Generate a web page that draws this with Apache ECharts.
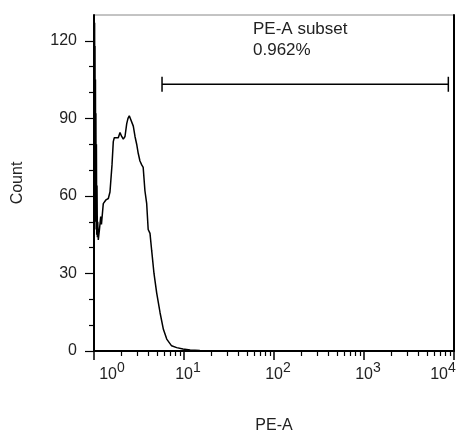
<!DOCTYPE html>
<html>
<head>
<meta charset="utf-8">
<title>PE-A histogram</title>
<script src="https://cdn.jsdelivr.net/npm/echarts@6/dist/echarts.min.js"></script>
<style>
  html, body { margin: 0; padding: 0; background: #fff; }
  #chart { width: 457px; height: 430px; }
</style>
</head>
<body>
<div id="chart"></div>
<script>
// PE-A histogram values
var peValues = [1.006, 1.011, 1.016, 1.021, 1.026, 1.032, 1.038, 1.044, 1.05, 1.057, 1.064, 1.072, 1.08, 1.09, 1.1, 1.116,
  1.15, 1.187, 1.21, 1.268, 1.36, 1.443, 1.505,
  1.585, 1.638, 1.68, 1.757, 1.862, 1.945, 2.03, 2.115, 2.21, 2.31, 2.386, 2.466, 2.576, 2.733, 2.855, 2.98, 3.1,
  3.24, 3.39, 3.52, 3.68, 3.85, 4.0, 4.19, 4.37, 4.64, 4.97, 5.42, 5.9, 6.43, 7.28, 8.29, 9.75, 11.7, 15, 25, 10000];
var counts = [124, 70, 127, 60, 118, 55, 105, 50, 92, 47, 80, 45, 64, 44, 50, 43,
  47, 52, 49, 57, 58.5, 59, 61.5,
  72, 81, 82.5, 82.5, 82.5, 84.5, 83, 82, 83, 88, 90, 91, 90.5, 87, 83, 80, 76.5,
  73.5, 72, 71, 62, 57, 47, 45.5, 39, 30, 22.5, 14.8, 8.4, 4.6, 2, 1.3, 0.8, 0.4, 0.2, 0, 0];

var yTicks = [0, 30, 60, 90, 120];
var yMinorTicks = [10, 20, 40, 50, 70, 80, 100, 110];
var xTicks = [1, 10, 100, 1000, 10000];
var xMinorTicks = [];
for (var k = 0; k < 4; k++) {
  for (var m = 2; m <= 9; m++) xMinorTicks.push(m * Math.pow(10, k));
}

var gateX = [5.7, 8650];
var gateY = 103.2;
var gateName = 'PE-A subset';
var gatePercent = '0.962%';

var font = 'Liberation Sans, Arial, sans-serif';
var chart = echarts.init(document.getElementById('chart'));

var series_data = peValues.map(function (v, i) { return [v, counts[i]]; });

var option = {
  animation: false,
  backgroundColor: '#fff',
  textStyle: { fontFamily: font },
  grid: {
    left: 94, right: 3, top: 15, bottom: 79,
    outerBoundsMode: 'none',
    containLabel: false,
    show: true, borderColor: '#888', borderWidth: 1
  },
  graphic: [
    { type: 'text', left: 253, top: 21, style: { text: gateName, font: '17px ' + font, fill: '#222' } },
    { type: 'text', left: 253, top: 42, style: { text: gatePercent, font: '17px ' + font, fill: '#222' } }
  ],
  xAxis: [
    {
      type: 'log', logBase: 10, min: 1, max: 10000,
      name: 'PE-A', nameLocation: 'middle', nameGap: 67,
      nameTextStyle: { fontSize: 16, color: '#222', fontFamily: font },
      axisLine: { lineStyle: { color: '#000', width: 2 } },
      axisTick: { customValues: xTicks, length: 9, lineStyle: { color: '#000', width: 1.5 } },
      splitLine: { show: false },
      axisLabel: {
        customValues: xTicks,
        margin: 10,
        color: '#222',
        hideOverlap: false,
        formatter: function (value) {
          var e = Math.round(Math.log10(value));
          var base = e === 0 ? 'b0' : (e === 4 ? 'b4' : 'b');
          return '{' + base + '|10}{e|' + e + '}' + (e === 4 ? '{p|}' : '');
        },
        rich: {
          b: { fontSize: 16, lineHeight: 16, padding: [11, 0, 0, 8], color: '#222', fontFamily: font },
          b0: { fontSize: 16, lineHeight: 16, padding: [11, 0, 0, 36], color: '#222', fontFamily: font },
          b4: { fontSize: 16, lineHeight: 16, padding: [11, 0, 0, 8], color: '#222', fontFamily: font },
          p: { width: 30, lineHeight: 14 },
          e: { fontSize: 14, lineHeight: 14, verticalAlign: 'top', color: '#222', fontFamily: font }
        }
      }
    },
    {
      type: 'log', logBase: 10, min: 1, max: 10000, position: 'bottom',
      axisLine: { show: false },
      axisLabel: { show: false },
      splitLine: { show: false },
      axisTick: { customValues: xMinorTicks, length: 5, lineStyle: { color: '#000', width: 1.2 } }
    }
  ],
  yAxis: [
    {
      type: 'value', min: 0, max: 130,
      name: 'Count', nameLocation: 'middle', nameGap: 68,
      nameTextStyle: { fontSize: 16, color: '#222', fontFamily: font },
      axisLine: { show: true, lineStyle: { color: '#000', width: 2 } },
      axisTick: { customValues: yTicks, length: 9, lineStyle: { color: '#000', width: 1.2 } },
      axisLabel: { customValues: yTicks, margin: 17, fontSize: 16, color: '#222' },
      splitLine: { show: false }
    },
    {
      type: 'value', min: 0, max: 130, position: 'left',
      axisLine: { show: false },
      axisLabel: { show: false },
      splitLine: { show: false },
      axisTick: { customValues: yMinorTicks, length: 5, lineStyle: { color: '#000', width: 1.2 } }
    },
    {
      type: 'value', min: 0, max: 130, position: 'right',
      axisLine: { show: true, lineStyle: { color: '#000', width: 2 } },
      axisTick: { show: false },
      axisLabel: { show: false },
      splitLine: { show: false }
    }
  ],
  series: [
    {
      type: 'line',
      data: series_data,
      showSymbol: false,
      lineStyle: { color: '#000', width: 1.5 }
    },
    {
      type: 'custom',
      data: [[gateX[0], gateY]],
      renderItem: function (params, api) {
        var a = api.coord([gateX[0], gateY]);
        var b = api.coord([gateX[1], gateY]);
        var cap = 7.5;
        var st = { stroke: '#000', lineWidth: 1.5 };
        return {
          type: 'group',
          children: [
            { type: 'line', shape: { x1: a[0], y1: a[1], x2: b[0], y2: b[1] }, style: st },
            { type: 'line', shape: { x1: a[0], y1: a[1] - cap, x2: a[0], y2: a[1] + cap }, style: st },
            { type: 'line', shape: { x1: b[0], y1: b[1] - cap, x2: b[0], y2: b[1] + cap }, style: st }
          ]
        };
      }
    }
  ]
};

chart.setOption(option);
</script>
</body>
</html>
